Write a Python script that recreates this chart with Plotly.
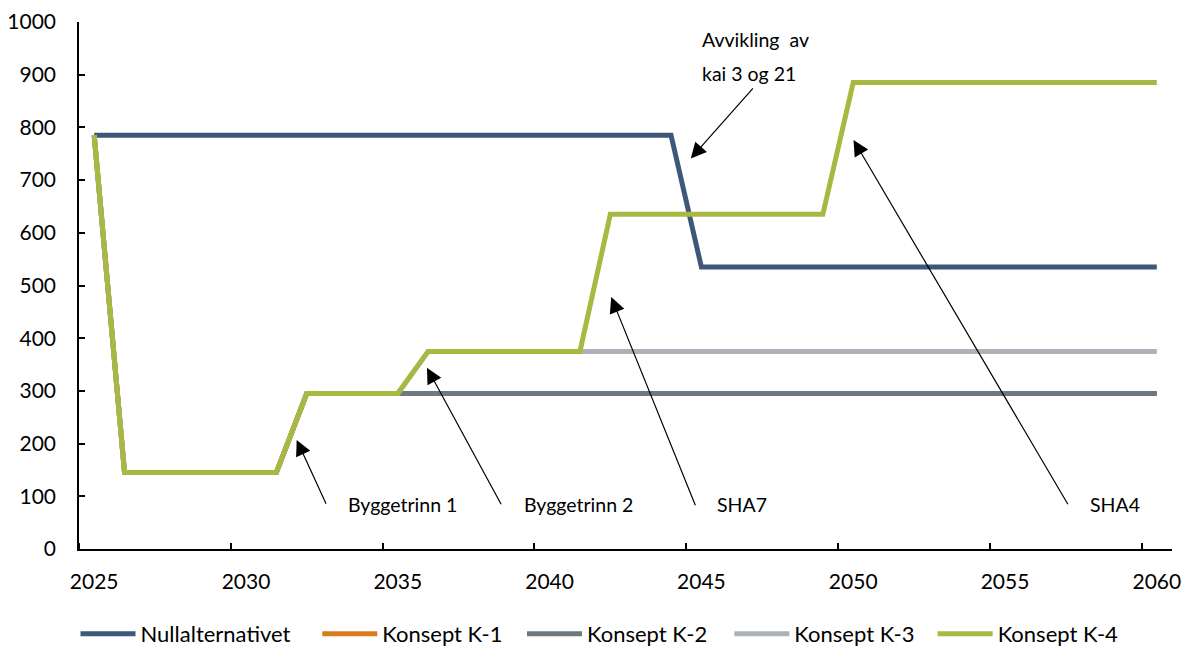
import plotly.graph_objects as go

# Categories (years)
years = list(range(2025, 2061))

# Series values per year, 2025-2060
nullalternativet = [785, 785, 785, 785, 785, 785, 785, 785, 785, 785,
                    785, 785, 785, 785, 785, 785, 785, 785, 785, 785,
                    535, 535, 535, 535, 535, 535, 535, 535, 535, 535,
                    535, 535, 535, 535, 535, 535]
konsept_k1 = [785, 145, 145, 145, 145, 145, 145, 295, 295, 295,
              295, 295, 295, 295, 295, 295, 295, 295, 295, 295,
              295, 295, 295, 295, 295, 295, 295, 295, 295, 295,
              295, 295, 295, 295, 295, 295]
konsept_k2 = [785, 145, 145, 145, 145, 145, 145, 295, 295, 295,
              295, 295, 295, 295, 295, 295, 295, 295, 295, 295,
              295, 295, 295, 295, 295, 295, 295, 295, 295, 295,
              295, 295, 295, 295, 295, 295]
konsept_k3 = [785, 145, 145, 145, 145, 145, 145, 295, 295, 295,
              295, 375, 375, 375, 375, 375, 375, 375, 375, 375,
              375, 375, 375, 375, 375, 375, 375, 375, 375, 375,
              375, 375, 375, 375, 375, 375]
konsept_k4 = [785, 145, 145, 145, 145, 145, 145, 295, 295, 295,
              295, 375, 375, 375, 375, 375, 375, 635, 635, 635,
              635, 635, 635, 635, 635, 885, 885, 885, 885, 885,
              885, 885, 885, 885, 885, 885]

series_names = ["Nullalternativet", "Konsept K-1", "Konsept K-2", "Konsept K-3", "Konsept K-4"]
series_values = [nullalternativet, konsept_k1, konsept_k2, konsept_k3, konsept_k4]
series_colors = ["#3D5878", "#D97B1A", "#6F7880", "#ACB2B8", "#A9B841"]

x_ticks = [2025, 2030, 2035, 2040, 2045, 2050, 2055, 2060]
y_ticks = [0, 100, 200, 300, 400, 500, 600, 700, 800, 900, 1000]

FONT = "Lato"

# one legend box per series so each entry sits at its own spot in the row
legend_ids = ["legend", "legend2", "legend3", "legend4", "legend5"]
legend_x = [-0.0032, 0.2180, 0.4053, 0.5950, 0.7810]

fig = go.Figure()
for name, vals, col, lid in zip(series_names, series_values, series_colors, legend_ids):
    fig.add_trace(go.Scatter(
        x=years, y=vals, name=name, mode="lines",
        line=dict(color=col, width=5), legend=lid,
    ))

# Arrow annotations: (head x, head y, tail x, tail y)
arrows = [
    (2031.67, 207, 2032.66, 83),
    (2035.96, 344, 2038.43, 82),
    (2042.03, 478, 2044.82, 80),
    (2050.01, 776, 2057.10, 82),
    (2044.65, 741, 2046.74, 877),
]
for hx, hy, tx, ty in arrows:
    fig.add_annotation(
        x=hx, y=hy, ax=tx, ay=ty, xref="x", yref="y", axref="x", ayref="y",
        text="", showarrow=True, arrowhead=2, arrowsize=2.6, arrowwidth=1.2,
        arrowcolor="black", standoff=0, startstandoff=0,
    )

# Label texts
labels = [
    ("Byggetrinn 1", 2033.30, 84),
    ("Byggetrinn 2", 2039.08, 84),
    ("SHA7", 2045.46, 84),
    ("SHA4", 2057.74, 84),
    ("Avvikling\u00a0 av", 2044.94, 967),
    ("kai 3 og 21", 2044.94, 903),
]
for txt, lx, ly in labels:
    fig.add_annotation(
        x=lx, y=ly, xref="x", yref="y", text=txt, showarrow=False,
        xanchor="left", yanchor="middle",
        font=dict(family=FONT, size=19.5, color="black"),
    )

legend_common = dict(
    orientation="h", xanchor="left", y=-0.161, yanchor="middle",
    font=dict(family=FONT, size=22, color="black"),
    itemwidth=55, bgcolor="rgba(0,0,0,0)",
)
legend_layout = {lid: dict(x=lx, **legend_common) for lid, lx in zip(legend_ids, legend_x)}

fig.update_layout(
    width=1189, height=646,
    margin=dict(l=79, r=17, t=22, b=97, autoexpand=False),
    paper_bgcolor="white", plot_bgcolor="white",
    font=dict(family=FONT, color="black"),
    showlegend=True,
    xaxis=dict(
        range=[2024.5, 2060.5], tickvals=x_ticks, ticktext=[str(v) for v in x_ticks],
        ticks="", showgrid=False, zeroline=False, automargin=False,
        showline=True, linecolor="black", linewidth=1.5,
        tickfont=dict(family=FONT, size=21, color="black"),
        ticklabelstandoff=13,
        minor=dict(tick0=2024.5, dtick=5, ticks="inside", ticklen=6,
                   tickcolor="black", tickwidth=1.5, showgrid=False),
    ),
    yaxis=dict(
        range=[0, 1000], tickvals=y_ticks, ticks="inside", ticklen=6,
        tickcolor="black", tickwidth=1.5, automargin=False,
        showgrid=False, zeroline=False,
        showline=True, linecolor="black", linewidth=1.5,
        tickfont=dict(family=FONT, size=21, color="black"),
        ticklabelstandoff=17,
    ),
    **legend_layout,
)

fig.write_html("out.html")
